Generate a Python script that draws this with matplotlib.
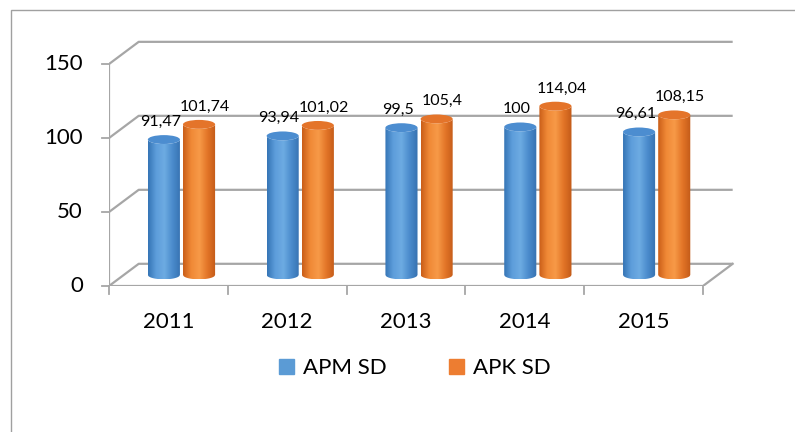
import numpy as np
import matplotlib
matplotlib.use("Agg")
import matplotlib.pyplot as plt
from matplotlib.patches import Ellipse, PathPatch, Patch, Rectangle
from matplotlib.path import Path
from matplotlib.colors import LinearSegmentedColormap

years = ["2011", "2012", "2013", "2014", "2015"]
apm_sd = [91.47, 93.94, 99.5, 100, 96.61]
apk_sd = [101.74, 101.02, 105.4, 114.04, 108.15]
apm_labels = ["91,47", "93,94", "99,5", "100", "96,61"]
apk_labels = ["101,74", "101,02", "105,4", "114,04", "108,15"]
y_ticks = [0, 50, 100, 150]

plt.rcParams['font.family'] = ['Lato', 'DejaVu Sans']

# 3d look: back wall shifted by (dx, dy) in data units
dx, dy = 0.25, 15
grid_col = '#a6a6a6'

fig = plt.figure(figsize=(7.95, 4.32), dpi=100)
fig.patches.append(Rectangle((11 / 795, -0.1), 1.2, 1 - 10 / 432 + 0.1,
                             transform=fig.transFigure, fill=False,
                             ec='#a0a0a0', lw=1))
ax = fig.add_axes([109 / 795, 146 / 432, 641.5 / 795, 256 / 432])
ax.set_axis_off()

# back wall grid + left wall diagonals
for v in y_ticks:
    ax.plot([0, dx, 5 + dx], [v, v + dy, v + dy], color=grid_col, lw=1.6,
            zorder=1, solid_capstyle='butt')
    ax.plot([-0.06, 0], [v, v], color=grid_col, lw=1.3, clip_on=False)
    ax.text(-0.22, v, str(v), ha='right', va='center', fontsize=16)

# floor and front axis
ax.plot([0, 5, 5 + dx], [0, 0, dy], color=grid_col, lw=1.6, zorder=1)
ax.plot([0, 0], [0, 150], color=grid_col, lw=1.6, zorder=1)
for k in range(6):
    ax.plot([k, k], [0, -5.5], color=grid_col, lw=1.3, clip_on=False)
for i, yr in enumerate(years):
    ax.text(i + 0.5, -24, yr, ha='center', va='center', fontsize=16)

blue_cmap = LinearSegmentedColormap.from_list(
    'b', ['#3574b5', '#5d9ddb', '#6dabe2', '#4a8bcc', '#3671b0'])
orange_cmap = LinearSegmentedColormap.from_list(
    'o', ['#c95d18', '#f08936', '#f79a48', '#e27427', '#c25a18'])
grad = np.linspace(0, 1, 256).reshape(1, -1)

base = dy / 2
w = 0.27
ry = 3.0


def cylinder(xc, val, cmap, top_col):
    x0, x1 = xc - w / 2, xc + w / 2
    t = base + val
    u = np.linspace(-1, 1, 60)
    xs = xc + u * w / 2
    low = base - ry * np.sqrt(1 - u ** 2)
    topl = t - ry * np.sqrt(1 - u ** 2)
    verts = [(x0, t)] + list(zip(xs, low)) + [(x1, t)] + list(zip(xs[::-1], topl[::-1]))
    path = Path(verts + [verts[0]], closed=True)
    patch = PathPatch(path, fc='none', ec='none')
    ax.add_patch(patch)
    im = ax.imshow(grad, cmap=cmap, extent=(x0, x1, base - ry, t), aspect='auto',
                   zorder=3, interpolation='bilinear')
    im.set_clip_path(patch)
    ax.add_patch(Ellipse((xc, t), w, 2 * ry, fc=top_col, ec='none', zorder=4))


shift = 0.11
half = 0.148
for i in range(len(years)):
    xb = i + 0.5 + shift - half
    xo = i + 0.5 + shift + half
    cylinder(xb, apm_sd[i], blue_cmap, '#4c8dd0')
    cylinder(xo, apk_sd[i], orange_cmap, '#e4742a')
    ax.text(xb - 0.03, apm_sd[i] + 19.5, apm_labels[i], ha='center', va='center',
            fontsize=11.5, zorder=5)
    ax.text(xo + 0.05, apk_sd[i] + 19.5, apk_labels[i], ha='center', va='center',
            fontsize=11.5, zorder=5)

ax.set_xlim(0, 5.4)
ax.set_ylim(0, 173)

handles = [Patch(color='#5b9bd5', label='APM SD'), Patch(color='#ed7d31', label='APK SD')]
fig.legend(handles=handles, loc='center', bbox_to_anchor=(415 / 795, 1 - 368 / 432),
           ncol=2, frameon=False, fontsize=16, handlelength=0.67, handleheight=0.67,
           handletextpad=0.4, columnspacing=2.8)

fig.savefig('out.png', dpi=100)
